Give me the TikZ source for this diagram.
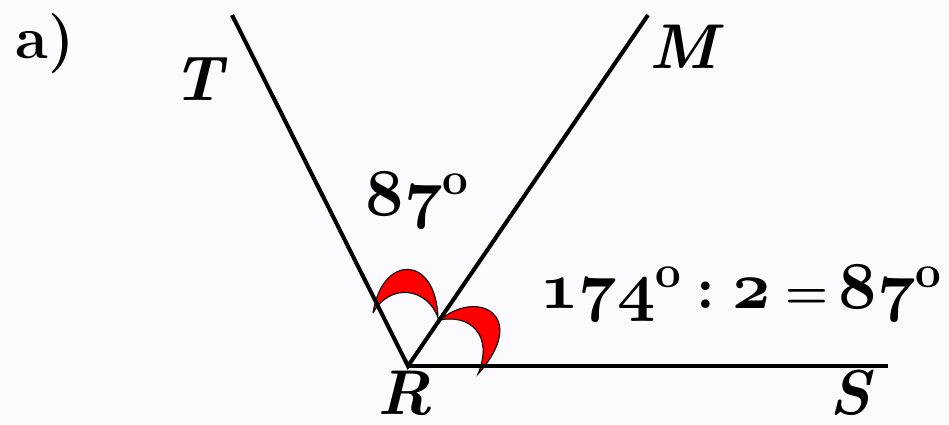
\documentclass[tikz,border=0pt]{standalone}
\DeclareFontFamily{OML}{bigcmm}{\skewchar\font127}
\DeclareFontShape{OML}{bigcmm}{b}{it}{<->cmmib10}{}
\tikzset{ray/.style={line width=2.3pt},
  arcmark/.style={fill=red,draw=black,line width=0.6pt},
  lbl/.style={anchor=base,inner sep=0pt,font=\fontsize{36}{40}\selectfont\bfseries\itshape},
  txt/.style={anchor=base,inner sep=0pt,font=\fontsize{34}{40}\selectfont\bfseries}}
\newcommand{\dg}{\raisebox{0.42cm}{\fontsize{26}{28}\selectfont o}}
\newcommand{\osn}[1]{{\fontsize{38}{42}\usefont{OML}{bigcmm}{b}{it}#1}}
\begin{document}
\begin{tikzpicture}[x=0.02cm,y=-0.02cm]
\fill[blue!2!white] (0,0) rectangle (949,424);
\useasboundingbox (0,0) rectangle (949,424);
\coordinate (R) at (408,366);
\coordinate (T) at (232,15);
\coordinate (M) at (648,15);
\coordinate (S) at (888,366);
% angle marks
\filldraw[arcmark] (373,313) .. controls (382,254) and (436,254) .. (438,318)
  .. controls (428,288) and (390,282) .. (373,313);
\filldraw[arcmark] (440,320) .. controls (478,288) and (530,316) .. (478,374)
  .. controls (494,335) and (470,314) .. (440,320);
% rays
\draw[ray] (T)--(R)--(M);
\draw[ray] (R)--(S);
% labels
\node[txt] (part) at (45,58) {a)};
\node[lbl] (lblT) at (198,100) {T};
\node[lbl] (lblM) at (683,68) {M};
\node[lbl] (lblR) at (405,414) {R};
\node[lbl] (lblS) at (850,414) {S};
\node[txt] (top) at (417,215) {\osn{87}\dg};
\node[txt,anchor=base west] (calc) at (540,308) {\osn{174}\dg\hspace{0.3cm}:\hspace{0.35cm}\osn{2}\hspace{0.3cm}{\fontsize{28}{30}\selectfont=}\hspace{0.2cm}\osn{87}\dg};
\end{tikzpicture}
\end{document}
